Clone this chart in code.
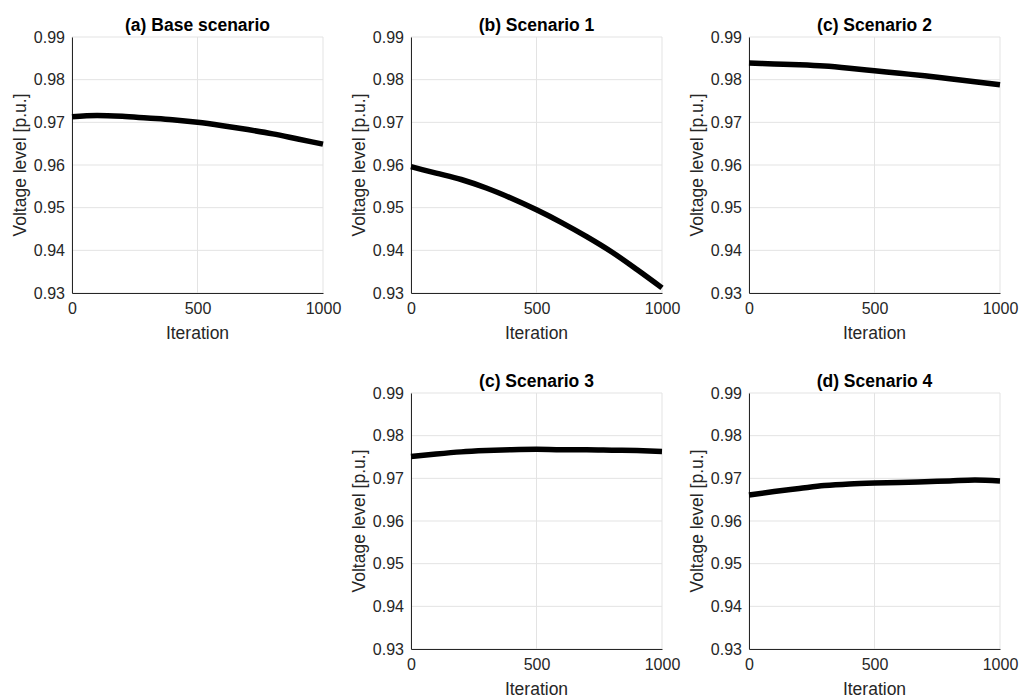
<!DOCTYPE html>
<html>
<head>
<meta charset="utf-8">
<script src="https://cdn.jsdelivr.net/npm/d3@7"></script>
<style>
  body { margin: 0; background: #fff; }
  .grid line { stroke: #e3e3e3; stroke-width: 1; }
  .line-path { fill: none; stroke: #000; stroke-width: 5.5; stroke-linejoin: round; }
</style>
</head>
<body>
<svg id="chart"></svg>
<script>
const { select, scaleLinear, axisLeft, axisBottom, line, curveMonotoneX } = d3

// data
const iterations  = [0, 100, 200, 300, 400, 500, 600, 700, 800, 900, 1000];
const baseScenario = [0.9713, 0.9716, 0.9714, 0.9710, 0.9706, 0.9700, 0.9692, 0.9683, 0.9673, 0.9661, 0.9649];
const scenario1    = [0.9596, 0.9581, 0.9566, 0.9546, 0.9522, 0.9495, 0.9465, 0.9432, 0.9396, 0.9355, 0.9312];
const scenario2    = [0.9839, 0.9837, 0.9835, 0.9832, 0.9827, 0.9821, 0.9815, 0.9809, 0.9802, 0.9795, 0.9788];
const scenario3    = [0.9751, 0.9757, 0.9762, 0.9765, 0.9767, 0.9768, 0.9767, 0.9767, 0.9766, 0.9765, 0.9763];
const scenario4    = [0.9661, 0.9669, 0.9676, 0.9683, 0.9687, 0.9689, 0.9690, 0.9692, 0.9694, 0.9696, 0.9694];

const titles = ['(a) Base scenario', '(b) Scenario 1', '(c) Scenario 2', '(c) Scenario 3', '(d) Scenario 4'];
const xTicks = [0, 500, 1000];
const yTicks = [0.93, 0.94, 0.95, 0.96, 0.97, 0.98, 0.99];
const xAxisLabel = 'Iteration';
const yAxisLabel = 'Voltage level [p.u.]';

const width = 1023, height = 700;
const font = '"Liberation Sans", Arial, Helvetica, sans-serif';

const svg = select('svg#chart')
  .attr('width', width)
  .attr('height', height)
  .style('font-family', font);

// plot box positions
const panels = [
  { title: titles[0], values: baseScenario, left: 72,  top: 37 },
  { title: titles[1], values: scenario1,    left: 411, top: 37 },
  { title: titles[2], values: scenario2,    left: 749, top: 37 },
  { title: titles[3], values: scenario3,    left: 411, top: 393 },
  { title: titles[4], values: scenario4,    left: 749, top: 393 }
];
const innerWidth = 251, innerHeight = 256;

const xScale = scaleLinear().domain([0, 1000]).range([0, innerWidth]);
const yScale = scaleLinear().domain([0.93, 0.99]).range([innerHeight, 0]);

const render = p => {
  const g = svg.append('g')
    .attr('transform', `translate(${p.left}, ${p.top})`);

  // grid
  const grid = g.append('g').attr('class', 'grid');
  grid.selectAll('.gx').data(xTicks)
    .enter().append('line')
      .attr('x1', d => xScale(d)).attr('x2', d => xScale(d))
      .attr('y1', 0).attr('y2', innerHeight);
  grid.selectAll('.gy').data(yTicks)
    .enter().append('line')
      .attr('x1', 0).attr('x2', innerWidth)
      .attr('y1', d => yScale(d)).attr('y2', d => yScale(d));

  const xAxis = axisBottom(xScale)
    .tickValues(xTicks)
    .tickFormat(d3.format('d'))
    .tickSize(0)
    .tickPadding(10);

  const yAxis = axisLeft(yScale)
    .tickValues(yTicks)
    .tickFormat(d3.format('.2f'))
    .tickSize(0)
    .tickPadding(7);

  const xAxisG = g.append('g').call(xAxis)
    .attr('transform', `translate(0, ${innerHeight})`)
    .attr('font-family', font)
    .attr('font-size', 16);
  xAxisG.select('.domain').attr('stroke', '#262626');
  xAxisG.selectAll('.tick text').attr('fill', '#262626');

  const yAxisG = g.append('g').call(yAxis)
    .attr('font-family', font)
    .attr('font-size', 16);
  yAxisG.select('.domain').attr('stroke', '#262626');
  yAxisG.selectAll('.tick text').attr('fill', '#262626');

  xAxisG.append('text')
    .attr('class', 'axis-label')
    .attr('x', innerWidth / 2)
    .attr('y', 46)
    .attr('fill', '#262626')
    .attr('font-size', 17.5)
    .attr('text-anchor', 'middle')
    .text(xAxisLabel);

  yAxisG.append('text')
    .attr('class', 'axis-label')
    .attr('transform', 'rotate(-90)')
    .attr('x', -innerHeight / 2)
    .attr('y', -46)
    .attr('fill', '#262626')
    .attr('font-size', 17.5)
    .attr('text-anchor', 'middle')
    .text(yAxisLabel);

  g.append('text')
    .attr('class', 'title')
    .attr('x', innerWidth / 2)
    .attr('y', -6)
    .attr('fill', '#000')
    .attr('font-size', 17.5)
    .attr('font-weight', 'bold')
    .attr('text-anchor', 'middle')
    .text(p.title);

  const lineGenerator = line()
    .x((d, i) => xScale(iterations[i]))
    .y(d => yScale(d))
    .curve(curveMonotoneX);

  g.append('path')
    .attr('class', 'line-path')
    .attr('d', lineGenerator(p.values));
};

panels.forEach(render);
</script>
</body>
</html>
